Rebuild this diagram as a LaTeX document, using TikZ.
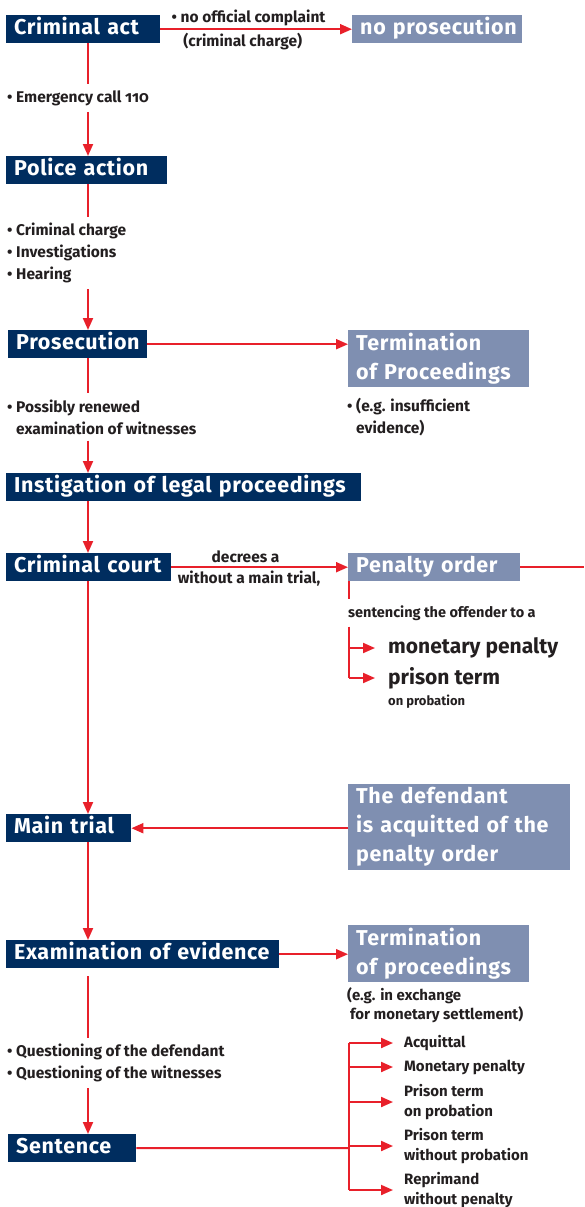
\documentclass[tikz,border=0pt]{standalone}
\usepackage{fontspec}
\setmainfont{Fira Sans}[Numbers=OldStyle]
\newfontfamily\stagefont{Fira Sans}[LetterSpace=3]
\usetikzlibrary{arrows.meta,positioning}
\definecolor{navy}{RGB}{0,45,95}
\definecolor{slate}{RGB}{127,143,177}
\definecolor{flowred}{RGB}{232,32,42}
\definecolor{ink}{RGB}{35,31,32}

\begin{document}
\begin{tikzpicture}[x=1pt,y=-1pt,
    box/.style={text=white,font=\stagefont\bfseries\fontsize{21.5}{29}\selectfont,anchor=north west,inner xsep=8pt,inner ysep=0pt,align=left},
    onerow/.style={minimum height=28pt,text height=15.5pt,text depth=5pt},
    stage/.style={box,onerow,fill=navy},
    result/.style={box,fill=slate},
    note/.style={text=ink,font=\bfseries\fontsize{15.5}{22}\selectfont,anchor=west,inner xsep=0pt,inner ysep=6pt,align=left},
    outcome/.style={text=ink,font=\bfseries\fontsize{15}{20}\selectfont,anchor=west,inner sep=0pt,align=left},
    redline/.style={draw=flowred,line width=2pt},
    flow/.style={redline,-{Triangle[length=12pt,width=10pt]}}]
    \useasboundingbox (0,0) rectangle (584,1207);
    \coordinate (spine) at (88,0);
    \coordinate (pbr) at (349,0);
    \coordinate (edge) at (584,0);

    \node[stage,text width=138pt] (act) at (6,15) {\mbox{Criminal act}};
    \node[result,onerow,text width=154pt] (noprosec) at (352,15) {\mbox{no prosecution}};
    \node[note] (emerg) at (7,98) {• Emergency call 110};
    \node[stage,text width=145pt] (police) at (6,156) {\mbox{Police action}};
    \node[note] (checks) at (7,253) {• Criminal charge\\• Investigations\\• Hearing};
    \node[stage,text width=123pt] (prosec) at (8,330) {\mbox{Prosecution}};
    \node[result,minimum height=57pt,text width=165pt] (termA) at (348,330) {Termination\\\mbox{of Proceedings}};
    \node[note] (renew) at (7,417) {• Possibly renewed\\\phantom{• }examination of witnesses};
    \node[note] (insuff) at (347,417) {• (e.g. insufficient\\\phantom{• }evidence)};
    \node[stage,text width=339pt] (instig) at (6,473) {\mbox{Instigation of legal proceedings}};
    \node[stage,text width=149pt] (court) at (6,553) {\mbox{Criminal court}};
    \node[result,onerow,text width=156pt] (penalty) at (348,553) {\mbox{Penalty order}};
    \node[note,font=\bfseries\fontsize{14.5}{20}\selectfont] (sentencing) at (348,613) {sentencing the offender to a};
    \node[outcome,font=\bfseries\fontsize{21}{24}\selectfont] (money) at (388,648) {monetary penalty};
    \node[outcome,font=\bfseries\fontsize{21}{24}\selectfont] (prison) at (388,678) {prison term};
    \node[outcome,font=\bfseries\fontsize{13}{16}\selectfont] (onprob) at (388,702) {on probation};
    \node[stage,text width=109pt] (main) at (6,814) {\mbox{Main trial}};
    \node[result,minimum height=86pt,text width=206pt] (defend) at (348,784) {The defendant\\\mbox{is acquitted of the}\\penalty order};
    \node[stage,text width=257pt] (exam) at (6,940) {\mbox{Examination of evidence}};
    \node[result,minimum height=57pt,text width=165pt] (termB) at (348,925) {Termination\\\mbox{of proceedings}};
    \node[outcome,font=\bfseries\fontsize{15}{19}\selectfont] (settle) at (347,1005) {(e.g. in exchange\\\hspace{3pt}for monetary settlement)};
    \node[note] (quest) at (7,1063) {• Questioning of the defendant\\• Questioning of the witnesses};
    \node[stage,text width=112pt] (sentence) at (8,1134) {\mbox{Sentence}};
    \coordinate (sbr) at (349,1148);
    \node[outcome] (acq) at (404,1043) {Acquittal};
    \node[outcome] (monet) at (404,1067) {Monetary penalty};
    \node[outcome] (probat) at (404,1102) {Prison term\\on probation};
    \node[outcome] (noprob) at (404,1146) {Prison term\\without probation};
    \node[outcome] (repr) at (404,1190) {Reprimand\\without penalty};

    \draw[flow] (act) -- (noprosec)
        node[note,anchor=south,pos=0.46,inner ysep=2pt] {• no official complaint}
        node[note,anchor=north,pos=0.43,inner ysep=3pt] {(criminal charge)};
    \draw[redline] (act.south -| spine) -- (emerg.north -| spine);
    \draw[flow] (emerg.south -| spine) -- (police.north -| spine);
    \draw[redline] (police.south -| spine) -- (checks.north -| spine);
    \draw[flow] (checks.south -| spine) -- (prosec.north -| spine);
    \draw[flow] (prosec.east) -- (prosec.east -| termA.west);
    \draw[redline] (prosec.south -| spine) -- (renew.north -| spine);
    \draw[flow] (renew.south -| spine) -- (instig.north -| spine);
    \draw[flow] (instig.south -| spine) -- (court.north -| spine);
    \draw[flow] (court) -- (penalty)
        node[note,anchor=south,pos=0.42,inner ysep=3pt] {decrees a}
        node[note,anchor=north,pos=0.44,inner ysep=3pt] {without a main trial,};
    \draw[redline] (penalty) -- (penalty -| edge);
    \draw[redline] (penalty.south -| pbr) -- (sentencing.north -| pbr);
    \draw[redline] (sentencing.south -| pbr) -- (pbr |- prison.west);
    \draw[flow,shorten >=13pt] (pbr |- money.west) -- (money.west);
    \draw[flow,shorten >=13pt] (pbr |- prison.west) -- (prison.west);
    \draw[flow] (court.south -| spine) -- (main.north -| spine);
    \draw[flow] (defend.west |- main) -- (main.east);
    \draw[flow] (main.south -| spine) -- (exam.north -| spine);
    \draw[flow] (exam.east) -- (exam.east -| termB.west);
    \draw[redline,shorten <=8pt] (exam.south -| spine) -- (quest.north -| spine);
    \draw[flow] (quest.south -| spine) -- (sentence.north -| spine);
    \draw[redline] (sentence.east) -- (sbr);
    \draw[redline] (sbr |- acq.west) -- (sbr |- repr.west);
    \foreach \o in {acq,monet,probat,noprob,repr}
        \draw[flow,shorten >=11pt] (sbr |- \o.west) -- (\o.west);
\end{tikzpicture}
\end{document}
